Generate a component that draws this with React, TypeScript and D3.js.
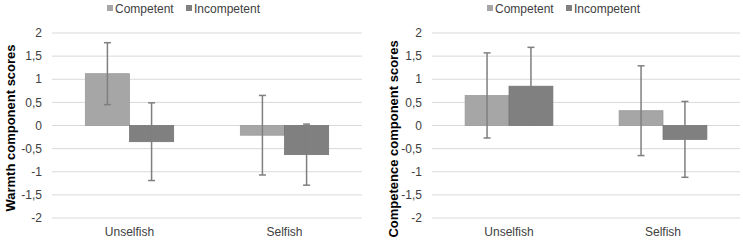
import React from "react";
import * as d3 from "d3";

const categories = ["Unselfish", "Selfish"];
const seriesNames = ["Competent", "Incompetent"];
const yTicks = [2, 1.5, 1, 0.5, 0, -0.5, -1, -1.5, -2];

// Warmth panel
const warmthCompetent = [1.12, -0.21];
const warmthCompetentErr = [0.67, 0.86];
const warmthIncompetent = [-0.35, -0.63];
const warmthIncompetentErr = [0.84, 0.66];

// Competence panel
const compCompetent = [0.65, 0.32];
const compCompetentErr = [0.92, 0.97];
const compIncompetent = [0.85, -0.3];
const compIncompetentErr = [0.84, 0.82];

const colors = ["#a6a6a6", "#808080"];
const strokeColors = ["#999999", "#737373"];
const FONT = "'Liberation Sans', Arial, sans-serif";

type PanelProps = {
  x0: number;
  x1: number;
  tickRight: number;
  titleX: number;
  titleY: number;
  title: string;
  legendX: number;
  values: number[][];
  errs: number[][];
};

function Panel({ x0, x1, tickRight, titleX, titleY, title, legendX, values, errs }: PanelProps) {
  const y = d3.scaleLinear().domain([-2, 2]).range([218, 33]);
  const xBand = d3.scaleBand<string>().domain(categories).range([x0, x1]).paddingInner(0.43).paddingOuter(0.215);
  const xSub = d3.scaleBand<string>().domain(seriesNames).range([0, xBand.bandwidth()]);
  const fmt = (v: number) => String(v).replace(".", ",");
  return (
    <g>
      {yTicks.map((t) => (
        <g key={t}>
          <line x1={x0} x2={x1} y1={y(t)} y2={y(t)} stroke="#d9d9d9" strokeWidth={1} />
          <text x={tickRight} y={y(t)} dy="0.35em" textAnchor="end" fontSize={12} fill="#404040" fontFamily={FONT}>
            {fmt(t)}
          </text>
        </g>
      ))}
      {categories.map((c, ci) => (
        <g key={c}>
          {seriesNames.map((s, si) => {
            const v = values[si][ci];
            const bx = (xBand(c) as number) + (xSub(s) as number);
            const bw = xSub.bandwidth();
            const top = Math.min(y(v), y(0));
            const h = Math.abs(y(v) - y(0));
            const cx = bx + bw / 2;
            const e = errs[si][ci];
            return (
              <g key={s}>
                <rect x={bx} y={top} width={bw} height={h} fill={colors[si]} stroke={strokeColors[si]} strokeWidth={0.75} />
                <line x1={cx} x2={cx} y1={y(v + e)} y2={y(v - e)} stroke="#7f7f7f" strokeWidth={1.5} />
                <line x1={cx - 3.5} x2={cx + 3.5} y1={y(v + e)} y2={y(v + e)} stroke="#7f7f7f" strokeWidth={1.5} />
                <line x1={cx - 3.5} x2={cx + 3.5} y1={y(v - e)} y2={y(v - e)} stroke="#7f7f7f" strokeWidth={1.5} />
              </g>
            );
          })}
          <text x={(xBand(c) as number) + xBand.bandwidth() / 2} y={232} dy="0.35em" textAnchor="middle" fontSize={12} fill="#404040" fontFamily={FONT}>
            {c}
          </text>
        </g>
      ))}
      <text
        transform={`translate(${titleX},${titleY}) rotate(-90)`}
        textAnchor="middle"
        dy="0.35em"
        fontSize={13}
        fontWeight="bold"
        fill="#000"
        fontFamily={FONT}
      >
        {title}
      </text>
      {seriesNames.map((s, si) => {
        const lx = legendX + si * 79;
        return (
          <g key={s}>
            <rect x={lx} y={5} width={6} height={6} fill={colors[si]} />
            <text x={lx + 8} y={9} dy="0.35em" fontSize={12} fill="#404040" fontFamily={FONT}>
              {s}
            </text>
          </g>
        );
      })}
    </g>
  );
}

export default function App() {
  return (
    <svg width={743} height={240} style={{ position: "absolute", left: 0, top: 0, background: "#fff" }}>
      <rect width={743} height={240} fill="#fff" />
      <Panel
        x0={52}
        x1={362}
        tickRight={42}
        titleX={10}
        titleY={128}
        title="Warmth component scores"
        legendX={107}
        values={[warmthCompetent, warmthIncompetent]}
        errs={[warmthCompetentErr, warmthIncompetentErr]}
      />
      <Panel
        x0={432}
        x1={740}
        tickRight={422}
        titleX={393}
        titleY={139}
        title="Competence component scores"
        legendX={487}
        values={[compCompetent, compIncompetent]}
        errs={[compCompetentErr, compIncompetentErr]}
      />
    </svg>
  );
}
